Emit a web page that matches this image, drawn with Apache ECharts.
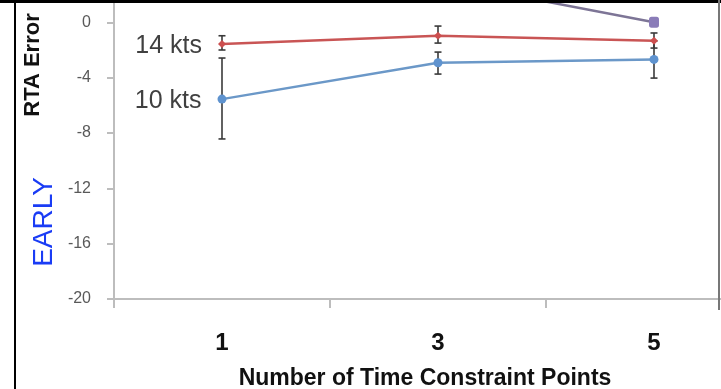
<!DOCTYPE html>
<html>
<head>
<meta charset="utf-8">
<script src="https://cdn.jsdelivr.net/npm/echarts@6/dist/echarts.min.js"></script>
<style>
  html, body { margin: 0; padding: 0; background: #fff; }
  #chart { width: 721px; height: 389px; }
</style>
</head>
<body>
<div id="chart"></div>
<script>
// Number of time constraint points on the x axis
const categories = ['1', '3', '5'];
const yTicks = { min: -20, max: 4, step: 4 };

// 10 kts: mean RTA error and error-bar bounds
const tenKts = [-5.55, -2.92, -2.68];
const tenKtsLow = [-8.43, -3.74, -4.03];
const tenKtsHigh = [-2.58, -2.15, -1.35];

// 14 kts: mean RTA error and error-bar bounds
const fourteenKts = [-1.57, -0.97, -1.33];
const fourteenKtsLow = [-2.0, -1.5, -1.86];
const fourteenKtsHigh = [-0.97, -0.27, -0.77];

// third speed, mostly above the visible range
const upperSeries = [6.5, 3.0, 0.0];

const chart = echarts.init(document.getElementById('chart'));

function errorData(low, high) {
  return low.map((l, i) => [i, l, high[i]]);
}

function errorBars(name, low, high, color) {
  return {
    type: 'custom',
    name: name,
    z: 1,
    data: errorData(low, high),
    encode: { x: 0, y: [1, 2] },
    renderItem: function (params, api) {
      const x = api.value(0);
      const lo = api.coord([x, api.value(1)]);
      const hi = api.coord([x, api.value(2)]);
      const cap = 3.5;
      const style = { stroke: color, lineWidth: 1.6 };
      return {
        type: 'group',
        children: [
          { type: 'line', shape: { x1: lo[0], y1: lo[1], x2: hi[0], y2: hi[1] }, style: style },
          { type: 'line', shape: { x1: lo[0] - cap, y1: lo[1], x2: lo[0] + cap, y2: lo[1] }, style: style },
          { type: 'line', shape: { x1: hi[0] - cap, y1: hi[1], x2: hi[0] + cap, y2: hi[1] }, style: style }
        ]
      };
    }
  };
}

function firstPointLabel(text) {
  return {
    show: true,
    position: 'left',
    distance: 16,
    fontFamily: 'Liberation Sans',
    fontSize: 25,
    color: '#404040',
    offset: [0, 2],
    formatter: p => (p.dataIndex === 0 ? text : '')
  };
}

chart.setOption({
  animation: false,
  backgroundColor: '#ffffff',
  grid: { left: 114, width: 648, top: -33, height: 332, containLabel: false, outerBoundsMode: 'none' },
  xAxis: {
    type: 'category',
    data: categories,
    boundaryGap: true,
    axisLine: { onZero: false, lineStyle: { color: '#bdbdbd', width: 2 } },
    axisTick: { show: true, length: 9, lineStyle: { color: '#bdbdbd', width: 2 } },
    axisLabel: {
      margin: 32,
      fontFamily: 'Liberation Sans',
      fontWeight: 'bold',
      fontSize: 24,
      color: '#111'
    },
    name: 'Number of Time Constraint Points',
    nameLocation: 'middle',
    nameGap: 68,
    nameTextStyle: {
      fontFamily: 'Liberation Sans',
      fontWeight: 'bold',
      fontSize: 23,
      color: '#111',
      padding: [0, 26, 0, 0]
    }
  },
  yAxis: {
    type: 'value',
    min: yTicks.min,
    max: yTicks.max,
    interval: yTicks.step,
    axisLine: { show: true, lineStyle: { color: '#bdbdbd', width: 2 } },
    axisTick: { show: true, length: 7, lineStyle: { color: '#bdbdbd', width: 2 } },
    splitLine: { show: false },
    axisLabel: {
      margin: 23,
      fontFamily: 'Liberation Sans',
      fontSize: 16,
      color: '#595959'
    }
  },
  series: [
    errorBars('10 kts range', tenKtsLow, tenKtsHigh, '#3a3a3a'),
    errorBars('14 kts range', fourteenKtsLow, fourteenKtsHigh, '#3a3a3a'),
    {
      type: 'line',
      name: 'upper',
      data: upperSeries,
      z: 3,
      symbol: 'roundRect',
      symbolSize: [10, 11],
      lineStyle: { color: '#7d7596', width: 2.5 },
      itemStyle: { color: '#8a7cb8' }
    },
    {
      type: 'line',
      name: '14 kts',
      data: fourteenKts,
      z: 3,
      symbol: 'diamond',
      symbolSize: 8,
      lineStyle: { color: '#c95555', width: 2.5 },
      itemStyle: { color: '#cc4f4f' },
      label: firstPointLabel('14 kts')
    },
    {
      type: 'line',
      name: '10 kts',
      data: tenKts,
      z: 3,
      symbol: 'circle',
      symbolSize: 9,
      lineStyle: { color: '#6b98c8', width: 2.5 },
      itemStyle: { color: '#5f93cf' },
      label: firstPointLabel('10 kts')
    }
  ],
  graphic: [
    { type: 'rect', shape: { x: 0, y: 0, width: 721, height: 3 }, style: { fill: '#000' }, z: 10 },
    { type: 'rect', shape: { x: 14, y: 0, width: 2, height: 389 }, style: { fill: '#000' }, z: 10 },
    { type: 'rect', shape: { x: 718, y: 0, width: 2, height: 310 }, style: { fill: '#777' }, z: 10 },
    {
      type: 'text', x: 33, y: 65, rotation: Math.PI / 2, z: 10,
      style: {
        text: 'RTA Error', align: 'center', verticalAlign: 'middle',
        fontFamily: 'Liberation Sans', fontWeight: 'bold', fontSize: 22, fill: '#111'
      }
    },
    {
      type: 'text', x: 44, y: 222, rotation: Math.PI / 2, z: 10,
      style: {
        text: 'EARLY', align: 'center', verticalAlign: 'middle',
        fontFamily: 'Liberation Sans', fontSize: 28, fill: '#1a3cf5'
      }
    }
  ]
});
</script>
</body>
</html>
